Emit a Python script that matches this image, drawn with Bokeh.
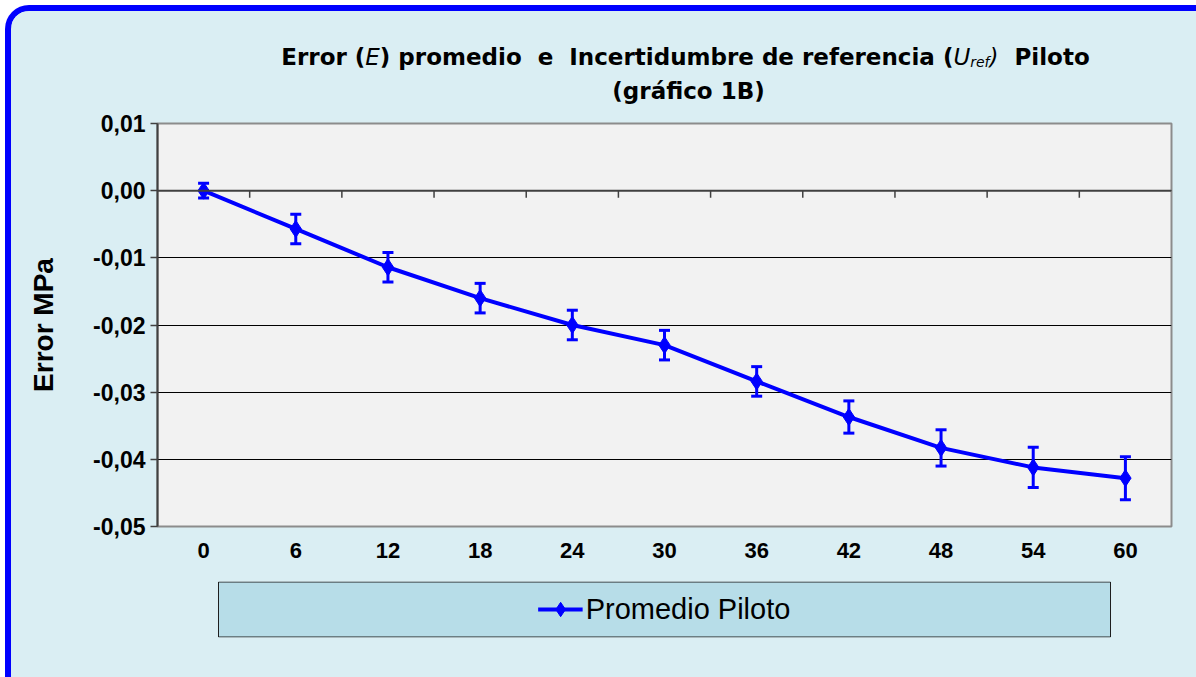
from bokeh.plotting import figure
from bokeh.layouts import column
from bokeh.models import (ColumnDataSource, Whisker, TeeHead, FixedTicker, Span,
                          Label, Legend, LegendItem, Range1d)
from bokeh.embed import file_html
from bokeh.resources import INLINE

# ---------------- data ----------------
time_labels = ["0", "6", "12", "18", "24", "30", "36", "42", "48", "54", "60"]
time_values = [0, 6, 12, 18, 24, 30, 36, 42, 48, 54, 60]
error_mean = [0.0000, -0.0057, -0.0114, -0.0160, -0.0200, -0.0230,
              -0.0284, -0.0337, -0.0383, -0.0412, -0.0428]
error_unc = [0.0011, 0.0022, 0.0022, 0.0022, 0.0022, 0.0022,
             0.0022, 0.0024, 0.0027, 0.0030, 0.0032]
y_tick_values = [-0.05, -0.04, -0.03, -0.02, -0.01, 0.0, 0.01]
y_tick_labels = ["-0,05", "-0,04", "-0,03", "-0,02", "-0,01", "0,00", "0,01"]
series_name = "Promedio Piloto"
y_title = "Error MPa"
title_line2 = "(gráfico 1B)"

# ---------------- layout constants (page pixels) ----------------
OFF = 11                      # css margin + blue border
PAGE_W, PAGE_H = 1196, 677
TITLE_BOTTOM = 108
MAIN_BOTTOM = 571
FRAME_L, FRAME_T, FRAME_W, FRAME_H = 157, 123, 1014, 403
FRAME_R = FRAME_L + FRAME_W
LEFT_B = FRAME_L - OFF
RIGHT_B = PAGE_W - FRAME_R
X0, X1 = -3, 63
Y0, Y1 = -0.05, 0.01
BLUE = "#0000FF"
BG = "#DAEEF3"

# ================= title figure (data units == page pixels) =================
tf = figure(frame_width=FRAME_W, frame_height=TITLE_BOTTOM - OFF,
            x_range=Range1d(FRAME_L, FRAME_R), y_range=Range1d(TITLE_BOTTOM, OFF),
            x_axis_type=None, y_axis_type=None, output_backend="svg",
            toolbar_location=None, min_border_left=LEFT_B, min_border_right=RIGHT_B,
            min_border_top=0, min_border_bottom=0,
            background_fill_color=BG, border_fill_color=BG, outline_line_color=None)

FS, FSUB = 23, 14
# (text, style, size, baseline drop, advance width in em of its size)
pieces = [
    ("Error (", "bold", FS, 0, 3.654),
    ("E", "italic", FS, 0, 0.632),
    (") promedio", "bold", FS, 0, 6.167 + 0.696),
    ("e", "bold", FS, 0, 0.678 + 0.696),
    ("Incertidumbre de referencia (", "bold", FS, 0, 16.699),
    ("U", "italic", FS, 0, 0.732),
    ("ref", "italic", FSUB, 5, 1.378),
    (")", "italic", FS, 0, 0.390 + 0.696),
    ("Piloto", "bold", FS, 0, 3.271),
]
total = sum(pc[2] * pc[4] for pc in pieces)
x = 685 - total / 2
for txt, style, size, drop, w in pieces:
    tf.add_layout(Label(x=x, y=56 + drop, text=txt,
                        text_font="DejaVu Sans", text_font_style=style,
                        text_font_size=f"{size}px", text_color="#000000",
                        text_align="left", text_baseline="alphabetic"))
    x += size * w
tf.add_layout(Label(x=688, y=90, text=title_line2,
                    text_font="DejaVu Sans", text_font_style="bold",
                    text_font_size=f"{FS}px", text_color="#000000",
                    text_align="center", text_baseline="alphabetic"))

# ================= main chart =================
p = figure(frame_width=FRAME_W, frame_height=FRAME_H,
           x_range=(X0, X1), y_range=(Y0, Y1),
           output_backend="svg", toolbar_location=None,
           min_border_left=LEFT_B, min_border_top=FRAME_T - TITLE_BOTTOM,
           min_border_right=RIGHT_B,
           min_border_bottom=MAIN_BOTTOM - FRAME_T - FRAME_H,
           background_fill_color="#F2F2F2", border_fill_color=BG,
           outline_line_color="#8C8C8C", outline_line_width=2)

p.xgrid.visible = False
p.ygrid.ticker = FixedTicker(ticks=y_tick_values[1:-1])
p.ygrid.grid_line_color = "#000000"
p.ygrid.grid_line_width = 1

xa = p.xaxis[0]
xa.ticker = FixedTicker(ticks=time_values)
xa.major_label_overrides = {v: l for v, l in zip(time_values, time_labels)}
xa.axis_line_color = None
xa.major_tick_line_color = None
xa.minor_tick_line_color = None
xa.major_label_standoff = 10
xa.major_label_text_font = "Liberation Sans"
xa.major_label_text_font_style = "bold"
xa.major_label_text_font_size = "22px"
xa.major_label_text_color = "#000000"

ya = p.yaxis[0]
ya.ticker = FixedTicker(ticks=y_tick_values)
ya.major_label_overrides = {v: l for v, l in zip(y_tick_values, y_tick_labels)}
ya.axis_line_color = "#404040"
ya.axis_line_width = 2
ya.major_tick_line_color = "#404040"
ya.major_tick_line_width = 1.5
ya.major_tick_out = 7
ya.major_tick_in = 0
ya.minor_tick_line_color = None
ya.major_label_standoff = 5
ya.major_label_text_font = "Liberation Sans"
ya.major_label_text_font_style = "bold"
ya.major_label_text_font_size = "23px"
ya.major_label_text_color = "#000000"
ya.axis_label = y_title
ya.axis_label_text_font = "Liberation Sans"
ya.axis_label_text_font_style = "bold"
ya.axis_label_text_font_size = "28px"
ya.axis_label_text_color = "#000000"
ya.axis_label_standoff = 31

# zero line with category-boundary ticks
p.add_layout(Span(location=0, dimension="width", line_color="#404040", line_width=2))
mids = [(a + b) / 2 for a, b in zip(time_values[:-1], time_values[1:])]
tick_len = 7 * (Y1 - Y0) / FRAME_H
p.segment(x0=mids, y0=[0] * len(mids), x1=mids, y1=[-tick_len] * len(mids),
          line_color="#404040", line_width=1.5)

src = ColumnDataSource(dict(
    x=time_values, y=error_mean,
    upper=[m + u for m, u in zip(error_mean, error_unc)],
    lower=[m - u for m, u in zip(error_mean, error_unc)],
))
p.add_layout(Whisker(base="x", upper="upper", lower="lower", source=src,
                     line_color=BLUE, line_width=3,
                     upper_head=TeeHead(size=11, line_color=BLUE, line_width=3),
                     lower_head=TeeHead(size=11, line_color=BLUE, line_width=3)))
p.line("x", "y", source=src, line_color=BLUE, line_width=4)
p.scatter("x", "y", source=src, marker="diamond", size=17,
          fill_color=BLUE, line_color=BLUE)

# ================= legend figure (data units == page pixels) =================
LB_L, LB_R, LB_T, LB_B = 218, 1110, 581, 637
lf = figure(frame_width=FRAME_W, frame_height=LB_B - LB_T,
            x_range=Range1d(FRAME_L, FRAME_R), y_range=Range1d(LB_B, LB_T),
            x_axis_type=None, y_axis_type=None, output_backend="svg",
            toolbar_location=None,
            min_border_left=LEFT_B, min_border_right=RIGHT_B,
            min_border_top=LB_T - MAIN_BOTTOM, min_border_bottom=PAGE_H - LB_B,
            background_fill_color=BG, border_fill_color=BG, outline_line_color=None)
lf.quad(left=[LB_L], right=[LB_R], top=[LB_T + 0.5], bottom=[LB_B - 0.5],
        fill_color="#B7DDE8", line_color="#1E1E1E", line_width=1)
# legend keys: same series, lying outside this panel's visible range
k_line = lf.line("x", "y", source=src, line_color=BLUE, line_width=4)
k_mark = lf.scatter("x", "y", source=src, marker="diamond", size=15,
                    fill_color=BLUE, line_color=BLUE)
legend = Legend(items=[LegendItem(label=series_name, renderers=[k_line, k_mark])],
                location="center", orientation="horizontal",
                background_fill_alpha=0, border_line_color=None,
                label_text_font="Liberation Sans", label_text_font_size="29px",
                label_text_color="#000000",
                glyph_width=45, glyph_height=36, label_standoff=3,
                padding=0, margin=0)
lf.add_layout(legend)

layout = column(tf, p, lf, spacing=0,
                styles={"margin-left": "5px", "margin-top": "5px",
                        "border-left": f"6px solid {BLUE}",
                        "border-top": f"6px solid {BLUE}",
                        "border-top-left-radius": "24px",
                        "overflow": "hidden",
                        "background-color": BG})

open("out.html", "w").write(file_html(layout, INLINE))
